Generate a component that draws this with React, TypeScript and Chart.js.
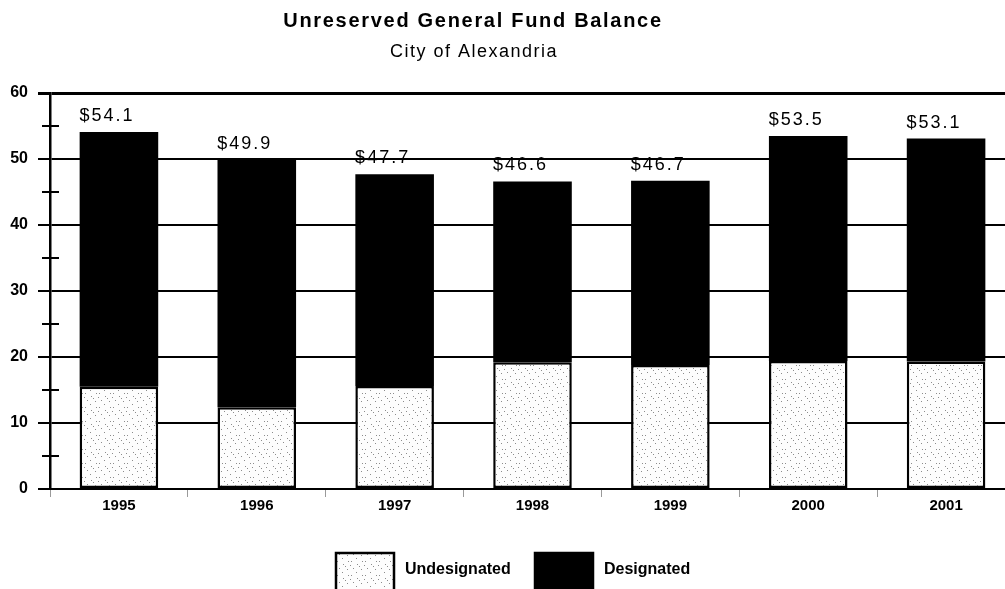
import React, { useEffect, useRef } from "react";
import { Chart, registerables } from "chart.js";

Chart.register(...registerables);

// ---- data ----
const years = ["1995", "1996", "1997", "1998", "1999", "2000", "2001"];
const undesignated = [15.5, 12.4, 15.6, 19.2, 18.8, 19.4, 19.3];
const designated = [38.6, 37.5, 32.1, 27.4, 27.9, 34.1, 33.8];
const totals = [54.1, 49.9, 47.7, 46.6, 46.7, 53.5, 53.1];
const seriesNames = ["Undesignated", "Designated"];
const yMin = 0;
const yMax = 60;
const yMajorStep = 10;
const yMinorStep = 5;
const titleText = "Unreserved General Fund Balance";
const subtitleText = "City of Alexandria";

const FONT = '"Liberation Sans", Arial, Helvetica, sans-serif';

function makeStipple(): CanvasPattern | string {
  const c = document.createElement("canvas");
  c.width = 14;
  c.height = 14;
  const g = c.getContext("2d");
  if (!g) return "#f2f2f2";
  g.fillStyle = "#fdfdfd";
  g.fillRect(0, 0, 14, 14);
  g.fillStyle = "#8c8c8c";
  const dots = [
    [1, 1], [7, 4], [11, 9], [3, 8], [12, 1], [6, 12], [0, 5], [9, 6],
  ];
  dots.forEach(([x, y]) => g.fillRect(x, y, 1, 1));
  return g.createPattern(c, "repeat") || "#f2f2f2";
}

export default function App() {
  const ref = useRef<HTMLCanvasElement | null>(null);

  useEffect(() => {
    const canvas = ref.current;
    if (!canvas) return;
    const stipple = makeStipple();

    const decorations = {
      id: "decorations",
      afterDraw(chart: any) {
        const ctx: CanvasRenderingContext2D = chart.ctx;
        const ys = chart.scales.y;
        const area = chart.chartArea;
        ctx.save();

        // minor cross ticks on the y axis
        ctx.strokeStyle = "#000";
        ctx.lineWidth = 2;
        ys.ticks.forEach((t: any) => {
          if (t.value % yMajorStep !== 0) {
            const py = ys.getPixelForValue(t.value);
            ctx.beginPath();
            ctx.moveTo(area.left - 8, py);
            ctx.lineTo(area.left + 9, py);
            ctx.stroke();
          }
        });

        // value labels above the stacks
        ctx.fillStyle = "#000";
        ctx.textAlign = "center";
        ctx.textBaseline = "alphabetic";
        ctx.font = `18px ${FONT}`;
        (ctx as any).letterSpacing = "2px";
        const meta = chart.getDatasetMeta(1);
        meta.data.forEach((bar: any, i: number) => {
          ctx.fillText("$" + totals[i].toFixed(1), bar.x - 12, bar.y - 11);
        });

        // title and subtitle
        ctx.font = `bold 20px ${FONT}`;
        (ctx as any).letterSpacing = "1.7px";
        ctx.fillText(titleText, 473, 27);
        ctx.font = `18px ${FONT}`;
        (ctx as any).letterSpacing = "1.5px";
        ctx.fillText(subtitleText, 474, 57);

        // legend
        (ctx as any).letterSpacing = "0px";
        const ds = chart.data.datasets;
        const items = [
          { x: 336, text: ds[0].label, fill: ds[0].backgroundColor },
          { x: 535, text: ds[1].label, fill: ds[1].backgroundColor },
        ];
        ctx.font = `bold 16px ${FONT}`;
        ctx.textAlign = "left";
        items.forEach((it) => {
          ctx.fillStyle = it.fill;
          ctx.fillRect(it.x, 553, 58, 44);
          ctx.strokeStyle = "#000";
          ctx.lineWidth = 2.5;
          ctx.strokeRect(it.x, 553, 58, 44);
          ctx.fillStyle = "#000";
          ctx.fillText(it.text, it.x + 69, 574);
        });

        ctx.restore();
      },
    };

    const chart = new Chart(canvas, {
      type: "bar",
      data: {
        labels: years,
        datasets: [
          {
            label: seriesNames[0],
            data: undesignated,
            backgroundColor: stipple as any,
            borderColor: "#000",
            borderWidth: 2.5,
            borderSkipped: false,
            stack: "s",
          },
          {
            label: seriesNames[1],
            data: designated,
            backgroundColor: "#000",
            borderColor: "#000",
            borderWidth: 0,
            stack: "s",
          },
        ],
      },
      options: {
        animation: false,
        responsive: false,
        maintainAspectRatio: false,
        layout: { padding: { top: 93, left: 10, right: 10, bottom: 70 } },
        datasets: { bar: { barPercentage: 0.57, categoryPercentage: 1 } },
        plugins: {
          legend: { display: false },
          title: { display: false },
          tooltip: { enabled: false },
        },
        scales: {
          x: {
            stacked: true,
            grid: {
              offset: true,
              drawOnChartArea: false,
              drawTicks: true,
              tickLength: 8,
              color: "#9a9a9a",
              lineWidth: 1,
            },
            border: { display: true, color: "#000", width: 2 },
            ticks: {
              color: "#000",
              font: { family: FONT, size: 15, weight: "bold" },
              padding: 0,
              maxRotation: 0,
            },
            afterFit: (s: any) => {
              s.height = 30;
            },
          },
          y: {
            stacked: true,
            min: yMin,
            max: yMax,
            ticks: {
              stepSize: yMinorStep,
              autoSkip: false,
              callback: (v: any) => (Number(v) % yMajorStep === 0 ? String(v) : ""),
              color: "#000",
              font: { family: FONT, size: 16, weight: "bold" },
              padding: 10,
            },
            grid: {
              color: (c: any) =>
                c.tick && c.tick.value % yMajorStep === 0 ? "#000" : "rgba(0,0,0,0)",
              tickColor: (c: any) =>
                c.tick && c.tick.value % yMajorStep === 0 ? "#000" : "rgba(0,0,0,0)",
              lineWidth: (c: any) => (c.tick && c.tick.value === yMax ? 3 : 2),
              tickLength: 12,
            },
            border: { display: true, color: "#000", width: 2.5 },
            afterFit: (s: any) => {
              s.width = 40;
            },
          },
        },
      } as any,
      plugins: [decorations],
    });

    return () => chart.destroy();
  }, []);

  return (
    <div
      style={{
        position: "fixed",
        left: 0,
        top: 0,
        width: 1005,
        height: 589,
        overflow: "hidden",
        background: "#fff",
      }}
    >
      <canvas ref={ref} width={1025} height={589} style={{ display: "block" }} />
    </div>
  );
}
